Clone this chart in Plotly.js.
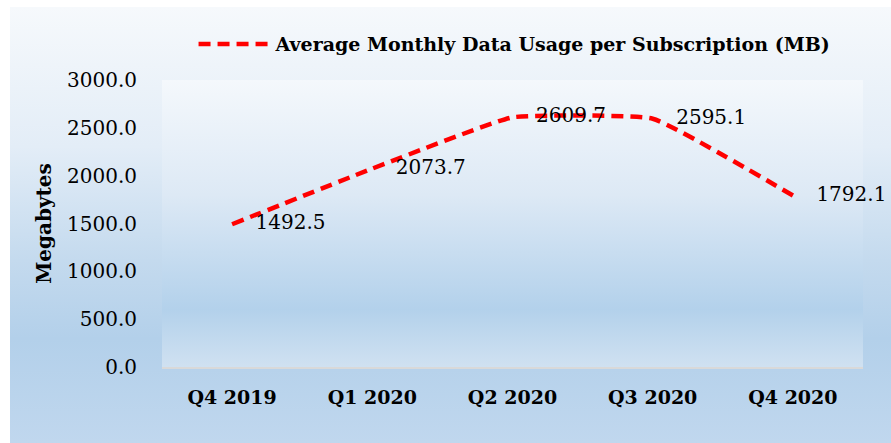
<!DOCTYPE html>
<html>
<head>
<meta charset="utf-8">
<script src="https://cdn.plot.ly/plotly-3.0.1.min.js"></script>
<style>
  html, body { margin: 0; padding: 0; background: #ffffff; }
  #bg { position: absolute; left: 10px; top: 7px; width: 881px; height: 436px;
        background: linear-gradient(to bottom, #f6f9fc 0%, #e3edf7 32%, #c4daee 58%, #b3d0ea 76%, #c0d7ee 100%); }
  #chart { position: absolute; left: 0; top: 0; width: 891px; height: 443px; }
</style>
</head>
<body>
<div id="bg"></div>
<div id="chart"></div>
<script>
const categories = ["Q4 2019", "Q1 2020", "Q2 2020", "Q3 2020", "Q4 2020"];
const usageMB = [1492.5, 2073.7, 2609.7, 2595.1, 1792.1];
const yTickValues = [0, 500, 1000, 1500, 2000, 2500, 3000];
const seriesName = "Average Monthly Data Usage per Subscription (MB)";

const FONT = "'DejaVu Serif', 'Liberation Serif', serif";

const plotGrad = 'data:image/svg+xml;utf8,' + encodeURIComponent(
  '<svg xmlns="http://www.w3.org/2000/svg" width="100" height="100" preserveAspectRatio="none">' +
  '<defs><linearGradient id="g" x1="0" y1="0" x2="0" y2="1">' +
  '<stop offset="0" stop-color="#f4f8fc"/>' +
  '<stop offset="0.4" stop-color="#dde9f5"/>' +
  '<stop offset="0.8" stop-color="#b3d1eb"/>' +
  '<stop offset="1" stop-color="#d0e1f1"/>' +
  '</linearGradient></defs><rect width="100" height="100" fill="url(#g)"/></svg>');

const trace = {
  x: categories,
  y: usageMB,
  name: seriesName,
  type: 'scatter',
  mode: 'lines+markers+text',
  line: { color: '#ff0000', width: 4.5, dash: '12px,7px', shape: 'spline', smoothing: 0.35 },
  marker: { size: 36, color: 'rgba(0,0,0,0)' },
  text: usageMB.map(v => v.toFixed(1)),
  textposition: 'middle right',
  textfont: { family: FONT, size: 20, color: '#000000' },
  cliponaxis: false,
  hoverinfo: 'skip'
};

const layout = {
  width: 891, height: 443,
  paper_bgcolor: 'rgba(0,0,0,0)',
  plot_bgcolor: 'rgba(0,0,0,0)',
  margin: { l: 162, r: 28, t: 80, b: 76, autoexpand: false },
  font: { family: FONT, color: '#000000' },
  showlegend: true,
  legend: {
    orientation: 'h', x: 0.045, y: 1.125, xanchor: 'left', yanchor: 'middle',
    font: { family: FONT, size: 19, color: '#000000', weight: 'bold' },
    bgcolor: 'rgba(0,0,0,0)', itemwidth: 72
  },
  xaxis: {
    type: 'category',
    showgrid: false, zeroline: false,
    showline: true, linecolor: '#d9d9d9', linewidth: 2,
    ticks: '', ticklabelstandoff: 12,
    tickfont: { family: FONT, size: 19, color: '#000000', weight: 'bold' },
    range: [-0.5, 4.5]
  },
  yaxis: {
    range: [0, 3000],
    tickvals: yTickValues,
    ticktext: yTickValues.map(v => v.toFixed(1)),
    showgrid: false, zeroline: false, showline: false,
    ticks: '', ticklabelstandoff: 24,
    tickfont: { family: FONT, size: 20, color: '#000000' },
    title: { text: 'Megabytes', font: { family: FONT, size: 20, color: '#000000', weight: 'bold' }, standoff: 10 }
  },
  images: [{
    source: plotGrad, xref: 'paper', yref: 'paper', x: 0, y: 1,
    sizex: 1, sizey: 1, xanchor: 'left', yanchor: 'top', sizing: 'stretch', layer: 'below'
  }]
};

Plotly.newPlot('chart', [trace], layout, { displayModeBar: false, staticPlot: true });
</script>
</body>
</html>
